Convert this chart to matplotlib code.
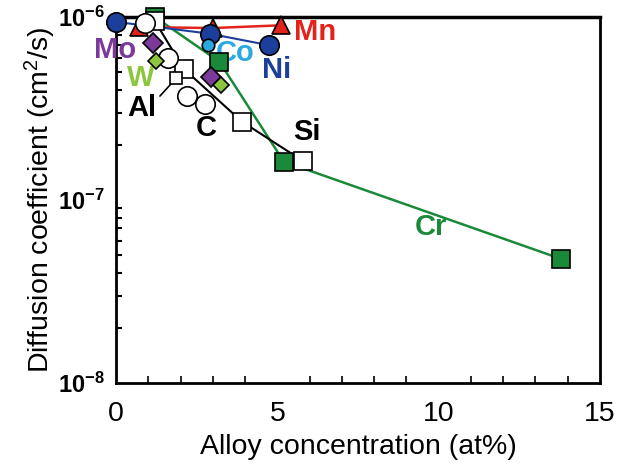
import matplotlib
matplotlib.use("Agg")
import matplotlib.pyplot as plt
from matplotlib.ticker import FixedLocator, NullFormatter, LogLocator

plt.rcParams['font.family'] = ['Liberation Sans', 'DejaVu Sans']
plt.rcParams['mathtext.fontset'] = 'custom'
plt.rcParams['mathtext.rm'] = 'Liberation Sans'
plt.rcParams['mathtext.bf'] = 'Liberation Sans:bold'
plt.rcParams['mathtext.default'] = 'regular'

# Data (at%, cm^2/s)
cr_x = [1.2, 3.2, 5.2, 13.8]
cr_y = [1.0e-6, 5.7e-7, 1.62e-7, 4.76e-8]

si_x = [1.2, 2.1, 3.9, 5.8]
si_y = [9.5e-7, 5.2e-7, 2.68e-7, 1.63e-7]

c_x = [0.9, 1.6, 2.2, 2.75]
c_y = [9.3e-7, 6.0e-7, 3.7e-7, 3.35e-7]

al_x = [1.85]
al_y = [4.65e-7]

mn_x = [0.7, 3.0, 5.1]
mn_y = [8.8e-7, 8.7e-7, 9.0e-7]

ni_x = [0.0, 2.9, 4.75]
ni_y = [9.4e-7, 8.1e-7, 7.0e-7]

co_x = [2.85]
co_y = [7.0e-7]

mo_x = [1.15, 2.95]
mo_y = [7.2e-7, 4.7e-7]

w_x = [1.25, 3.25]
w_y = [5.75e-7, 4.27e-7]

x_ticks = [0, 5, 10, 15]
y_ticks = [1e-8, 1e-7, 1e-6]
y_tick_labels = ['10$^{-8}$', '10$^{-7}$', '10$^{-6}$']

RED = '#e3231b'
DBLUE = '#1b3f9a'
LBLUE = '#2aa9e0'
PURPLE = '#7a3a9a'
LGREEN = '#8cc63f'
DGREEN = '#1a8a3a'

fig = plt.figure(figsize=(6.21, 4.71), dpi=100)
ax = fig.add_axes([0.187, 0.187, 0.779, 0.777])
ax.set_yscale('log')
ax.set_xlim(0, 15)
ax.set_ylim(1e-8, 1e-6)

common = dict(markeredgecolor='black', markeredgewidth=1.2, clip_on=False)

ax.plot(cr_x, cr_y, '-', color=DGREEN, lw=1.8, zorder=2, clip_on=False)
ax.plot(si_x, si_y, '-', color='black', lw=1.5, zorder=2, clip_on=False)
ax.plot(mn_x, mn_y, '-', color=RED, lw=1.8, zorder=2, clip_on=False)
ax.plot(ni_x, ni_y, '-', color=DBLUE, lw=1.5, zorder=2, clip_on=False)

ax.plot(mn_x, mn_y, '^', color=RED, markersize=13, zorder=3, **common)
ax.plot(ni_x, ni_y, 'o', color=DBLUE, markersize=14, zorder=4, **common)
ax.plot(co_x, co_y, 'o', color=LBLUE, markersize=9, zorder=5, **common)
ax.plot(cr_x, cr_y, 's', color=DGREEN, markersize=13, zorder=4, **common)
ax.plot(si_x, si_y, 's', markerfacecolor='white', markersize=13, zorder=5, **common)
ax.plot(c_x, c_y, 'o', markerfacecolor='white', markersize=14, zorder=6, **common)
ax.plot(al_x, al_y, 's', markerfacecolor='white', markersize=9, zorder=6, **common)
ax.plot(mo_x, mo_y, 'D', color=PURPLE, markersize=10, zorder=7, **common)
ax.plot(w_x, w_y, 'D', color=LGREEN, markersize=8, zorder=8, **common)

fs = 21
ax.text(5.5, 8.3e-7, 'Mn', color=RED, fontsize=fs, fontweight='bold', va='center', ha='left')
ax.text(3.7, 6.35e-7, 'Co', color=LBLUE, fontsize=fs, fontweight='bold', va='center', ha='center')
ax.text(4.97, 5.13e-7, 'Ni', color=DBLUE, fontsize=fs, fontweight='bold', va='center', ha='center')
ax.text(-0.7, 6.6e-7, 'Mo', color=PURPLE, fontsize=fs, fontweight='bold', va='center', ha='left')
ax.text(0.75, 4.64e-7, 'W', color=LGREEN, fontsize=fs, fontweight='bold', va='center', ha='center')
ax.text(0.8, 3.18e-7, 'Al', color='black', fontsize=fs, fontweight='bold', va='center', ha='center')
ax.annotate('', xy=(1.8, 4.5e-7), xytext=(1.3, 3.6e-7),
            arrowprops=dict(arrowstyle='-', color='black', lw=1.2))
ax.text(2.8, 2.47e-7, 'C', color='black', fontsize=fs, fontweight='bold', va='center', ha='center')
ax.text(5.93, 2.35e-7, 'Si', color='black', fontsize=fs, fontweight='bold', va='center', ha='center')
ax.text(9.75, 7.1e-8, 'Cr', color=DGREEN, fontsize=fs, fontweight='bold', va='center', ha='center')

ax.set_xticks(x_ticks)
ax.set_xticklabels([str(t) for t in x_ticks], fontsize=20.5)
ax.xaxis.set_minor_locator(FixedLocator(list(range(0, 16))))
ax.set_yticks(y_ticks)
ax.set_yticklabels(y_tick_labels, fontsize=17, fontweight='bold')
ax.yaxis.set_minor_locator(LogLocator(base=10, subs=range(2, 10)))
ax.yaxis.set_minor_formatter(NullFormatter())

ax.tick_params(axis='both', which='both', direction='in')
ax.tick_params(axis='x', which='major', length=0, pad=13)
ax.tick_params(axis='x', which='minor', length=5, width=1.2)
ax.tick_params(axis='y', which='major', length=0, pad=8)
ax.tick_params(axis='y', which='minor', length=4, width=1.5)

for s in ['left', 'bottom', 'right']:
    ax.spines[s].set_linewidth(2)
ax.spines['top'].set_linewidth(2.5)

ax.set_xlabel('Alloy concentration (at%)', fontsize=20.5, labelpad=5)
ax.set_ylabel('Diffusion coefficient (cm$^{2}$/s)', fontsize=20.5, labelpad=0)

fig.savefig('out.png', dpi=100)
